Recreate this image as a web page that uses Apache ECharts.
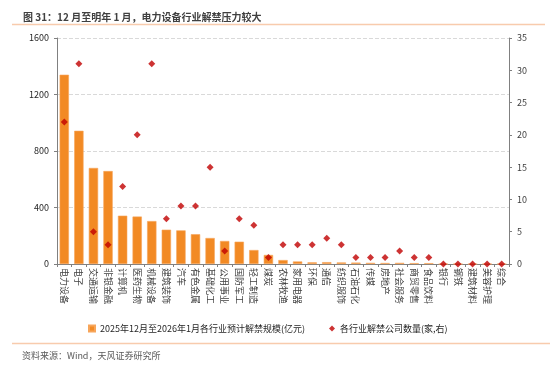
<!DOCTYPE html>
<html><head><meta charset="utf-8">
<script src="https://cdn.jsdelivr.net/npm/echarts@6/dist/echarts.min.js"></script>
<style>html,body{margin:0;padding:0;background:#fff}#c{width:550px;height:369px}</style>
</head><body><div id="c"></div>
<script>
const categories = ['电力设备','电子','交通运输','非银金融','计算机','医药生物','机械设备','建筑装饰','汽车','有色金属','基础化工','公用事业','国防军工','轻工制造','煤炭','农林牧渔','家用电器','环保','通信','纺织服饰','石油石化','传媒','房地产','社会服务','商贸零售','食品饮料','银行','钢铁','建筑材料','美容护理','综合'];
const unlockScale = [1340,943,680,658,342,336,304,243,238,211,184,163,158,99,64,28,18,12,13,11,10,8,7,8,6,6,0,0,0,0,0];
const companyCount = [22,31,5,3,12,20,31,7,9,9,15,2,7,6,1,3,3,3,4,3,1,1,1,2,1,1,0,0,0,0,0];
const leftTicks = {min:0,max:1600,interval:400};
const rightTicks = {min:0,max:35,interval:5};
const seriesNames = ['2025年12月至2026年1月各行业预计解禁规模(亿元)','各行业解禁公司数量(家,右)'];
const titleText = '图 31：12 月至明年 1 月，电力设备行业解禁压力较大';
const sourceText = '资料来源：Wind，天风证券研究所';

const chart = echarts.init(document.getElementById('c'));
const FONT = '"Noto Sans CJK SC","Microsoft YaHei",sans-serif';
chart.setOption({
  animation:false,
  textStyle:{fontFamily:FONT},
  title:[
    {text:titleText,left:18,top:7,textStyle:{fontSize:10,fontWeight:'bold',color:'#404040',fontFamily:FONT}},
    {text:sourceText,left:17,top:346,textStyle:{fontSize:9,fontWeight:'normal',color:'#595959',fontFamily:FONT}}
  ],
  graphic:[
    {type:'line',shape:{x1:12,y1:24.5,x2:545,y2:24.5},style:{stroke:'#F8CBAD',lineWidth:1.5}},
    {type:'line',shape:{x1:12,y1:343.5,x2:550,y2:343.5},style:{stroke:'#F8CBAD',lineWidth:1.5}}
  ],
  legend:{
    left:83,top:319,itemGap:24,itemWidth:6,itemHeight:6,
    textStyle:{fontSize:9,color:'#262626',fontFamily:FONT},
    data:[{name:seriesNames[0],icon:'rect'},{name:seriesNames[1],icon:'diamond'}]
  },
  grid:{left:57,right:41,top:38,bottom:105},
  xAxis:{
    type:'category',data:categories,
    axisLine:{lineStyle:{color:'#808080'}},
    axisTick:{show:true,lineStyle:{color:'#808080'},length:3},
    axisLabel:{rotate:-90,interval:0,fontSize:9,color:'#404040',margin:4,fontFamily:FONT}
  },
  yAxis:[
    {type:'value',min:leftTicks.min,max:leftTicks.max,interval:leftTicks.interval,
     axisLine:{show:true,lineStyle:{color:'#808080'}},
     axisTick:{show:true,length:3,lineStyle:{color:'#808080'}},
     axisLabel:{fontSize:9,color:'#262626',margin:8,formatter:v=>String(v)},
     splitLine:{show:true,lineStyle:{color:'#D9D9D9',type:'dashed'}}},
    {type:'value',min:rightTicks.min,max:rightTicks.max,interval:rightTicks.interval,
     axisLine:{show:true,lineStyle:{color:'#808080'}},
     axisTick:{show:true,length:3,lineStyle:{color:'#808080'}},
     axisLabel:{fontSize:9,color:'#404040',margin:8,formatter:v=>String(v)},
     splitLine:{show:false}}
  ],
  series:[
    {name:seriesNames[0],type:'bar',data:unlockScale,barWidth:'64%',
     itemStyle:{color:'#F28A24',borderColor:'#F7A55A',borderWidth:0.6}},
    {name:seriesNames[1],type:'scatter',yAxisIndex:1,data:companyCount,
     symbol:'diamond',symbolSize:7,itemStyle:{color:'#C00000'},z:5}
  ]
});
</script></body></html>
